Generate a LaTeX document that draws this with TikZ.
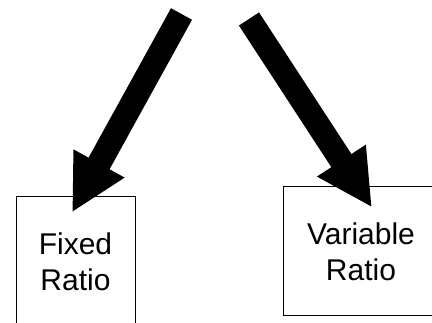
\documentclass[tikz,border=0pt]{standalone}
\usepackage{fontspec}
\setmainfont{Liberation Sans}
\usetikzlibrary{arrows.meta}

\begin{document}
\begin{tikzpicture}[x=1pt,y=-1pt,
      box/.style={draw,line width=1pt,align=center,inner sep=0pt,font=\fontsize{30}{36}\selectfont},
      bigarrow/.style={line width=24pt,-{Triangle[length=56pt,width=54pt]}}
    ]
      \clip (0,0) rectangle (432,323);
      \node[box,minimum width=119pt,minimum height=130pt] (fixed) at (75.5,262) {Fixed\\Ratio};
      \node[box,minimum width=156pt,minimum height=129pt] (variable) at (361,251.5) {Variable\\Ratio};
      \coordinate (fixedtail) at (181.5,14);
      \coordinate (vartail) at (249,19);
      \draw[bigarrow] (fixedtail) -- ([shift={(-3.5,16)}]fixed.north);
      \draw[bigarrow] (vartail) -- ([shift={(11,21)}]variable.north);
    \end{tikzpicture}
\end{document}
